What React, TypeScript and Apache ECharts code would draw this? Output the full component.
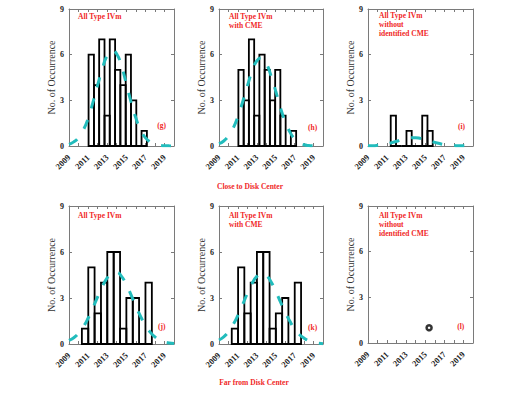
import React, { useEffect, useRef } from 'react';
import * as echarts from 'echarts';

// ---------- data ----------
const YEARS_FIT = [2009, 2009.5, 2010, 2010.5, 2011, 2011.5, 2012, 2012.5, 2013, 2013.5, 2014, 2014.5, 2015, 2015.5, 2016, 2016.5, 2017, 2017.5, 2018, 2018.5, 2019, 2019.5, 2020];

const EDGES_CLOSE = [2011.05, 2011.61, 2012.16, 2012.72, 2013.27, 2013.83, 2014.38, 2014.94, 2015.49, 2016.05, 2016.6, 2017.16];
const COUNTS_G = [6, 4, 7, 2, 7, 5, 4, 6, 3, 0, 1];
const COUNTS_H = [5, 3, 7, 2, 6, 5, 3, 5, 2, 0, 1];
const EDGES_I = [2011.38, 2011.93, 2012.48, 2013.03, 2013.58, 2014.13, 2014.68, 2015.23, 2015.78];
const COUNTS_I = [2, 0, 0, 1, 0, 0, 2, 1];

const EDGES_FAR = [2010.35, 2011.02, 2011.68, 2012.35, 2013.01, 2013.68, 2014.35, 2015.01, 2015.68, 2016.34, 2017.01, 2017.68];
const COUNTS_J = [1, 5, 2, 4, 6, 6, 1, 3, 3, 0, 4];
const COUNTS_K = [1, 5, 2, 4, 6, 6, 1, 2, 3, 0, 4];
const POINT_L_X = [2015.4];
const POINT_L_Y = [1];

const FIT_G = [0.11, 0.27, 0.56, 1.05, 1.8, 2.85, 4.0, 5.1, 5.95, 6.3, 6.05, 5.25, 4.1, 2.9, 1.85, 1.05, 0.55, 0.26, 0.11, 0.04, 0.02, 0.01, 0];
const FIT_H = [0.15, 0.33, 0.66, 1.17, 1.93, 2.89, 3.94, 4.91, 5.59, 5.8, 5.42, 4.62, 3.6, 2.5, 1.6, 0.92, 0.46, 0.2, 0.08, 0.03, 0.01, 0, 0];
const FIT_I = [0.01, 0.02, 0.045, 0.08, 0.14, 0.22, 0.31, 0.41, 0.49, 0.54, 0.55, 0.5, 0.43, 0.33, 0.24, 0.16, 0.09, 0.05, 0.03, 0.01, 0.01, 0, 0];
const FIT_J = [0.23, 0.41, 0.7, 1.12, 1.68, 2.35, 3.07, 3.76, 4.32, 4.64, 4.68, 4.41, 3.89, 3.21, 2.48, 1.8, 1.22, 0.78, 0.46, 0.26, 0.13, 0.07, 0.03];
const FIT_K = [0.26, 0.47, 0.8, 1.27, 1.87, 2.57, 3.3, 3.95, 4.41, 4.6, 4.47, 4.06, 3.44, 2.75, 2.08, 1.48, 0.98, 0.62, 0.38, 0.21, 0.1, 0.05, 0.02];

const X_MIN = 2009;
const X_MAX = 2020;
const Y_TICKS = [0, 3, 6, 9];
const Y_TITLE = 'No. of Occurrence';

const TITLES = [
  ['All Type IVm'],
  ['All Type IVm', 'with CME'],
  ['All Type IVm', 'without', 'identified CME'],
  ['All Type IVm'],
  ['All Type IVm', 'with CME'],
  ['All Type IVm', 'without', 'identified CME'],
];
const LETTERS = ['(g)', '(h)', '(i)', '(j)', '(k)', '(l)'];
const ROW_LABELS = ['Close to Disk Center', 'Far from Disk Center'];

// ---------- styling / layout ----------
const SERIF = "'Liberation Serif', 'Times New Roman', 'DejaVu Serif', serif";
const RED = '#f02828';
const TEAL = '#22bcbc';
const AXIS_C = '#7a7a7a';

const GRIDS = [
  { left: 69, top: 9, width: 105, height: 137 },
  { left: 219, top: 9, width: 104, height: 137 },
  { left: 368, top: 9, width: 105, height: 137 },
  { left: 69, top: 206, width: 105, height: 138 },
  { left: 219, top: 206, width: 104, height: 138 },
  { left: 368, top: 206, width: 105, height: 137 },
];
const NAME_GAPS = [9, 9, 12, 9, 9, 12];
const TITLE_POS = [
  { x: 78, y: 16, dy: 9 },
  { x: 229, y: 16.5, dy: 9 },
  { x: 379, y: 15, dy: 9.3 },
  { x: 78, y: 215, dy: 9 },
  { x: 229, y: 215, dy: 9 },
  { x: 379, y: 215, dy: 9.3 },
];
const LETTER_POS = [
  [161.7, 125],
  [312.7, 127.3],
  [461.5, 126],
  [161.7, 326.7],
  [312.7, 327.3],
  [460.7, 326.7],
];
const ROW_LABEL_POS = [
  [250, 186],
  [254, 382.7],
];

function binsFrom(edges: number[], counts: number[]) {
  return counts.map((c, i) => [edges[i], edges[i + 1], c]);
}

const PANELS = [
  { bins: binsFrom(EDGES_CLOSE, COUNTS_G), fit: FIT_G },
  { bins: binsFrom(EDGES_CLOSE, COUNTS_H), fit: FIT_H },
  { bins: binsFrom(EDGES_I, COUNTS_I), fit: FIT_I },
  { bins: binsFrom(EDGES_FAR, COUNTS_J), fit: FIT_J },
  { bins: binsFrom(EDGES_FAR, COUNTS_K), fit: FIT_K },
  { bins: null as any, fit: null as any },
];

function buildOption() {
  const grid: any[] = [];
  const xAxis: any[] = [];
  const yAxis: any[] = [];
  const series: any[] = [];
  const graphic: any[] = [];

  PANELS.forEach((p, i) => {
    grid.push({ ...GRIDS[i], containLabel: false });
    const xBase = {
      gridIndex: i,
      type: 'value',
      min: X_MIN,
      max: X_MAX,
      interval: 1,
      splitLine: { show: false },
      axisLine: { show: true, onZero: false, lineStyle: { color: AXIS_C, width: 1 } },
      axisTick: { show: true, inside: true, length: 3, lineStyle: { color: AXIS_C } },
    };
    xAxis.push({
      ...xBase,
      position: 'bottom',
      axisLabel: {
        formatter: (v: number) => (Math.round(v) % 2 === 1 ? String(Math.round(v)) : ''),
        rotate: 45,
        fontFamily: SERIF,
        fontWeight: 'bold',
        fontSize: 8.5,
        color: '#222',
        margin: 10,
      },
    });
    xAxis.push({ ...xBase, position: 'top', axisLabel: { show: false } });

    const yBase = {
      gridIndex: i,
      type: 'value',
      min: Y_TICKS[0],
      max: Y_TICKS[Y_TICKS.length - 1],
      interval: Y_TICKS[1] - Y_TICKS[0],
      splitLine: { show: false },
      axisLine: { show: true, onZero: false, lineStyle: { color: AXIS_C, width: 1 } },
      axisTick: { show: true, inside: true, length: 3, lineStyle: { color: AXIS_C } },
    };
    yAxis.push({
      ...yBase,
      position: 'left',
      name: Y_TITLE,
      nameLocation: 'middle',
      nameGap: NAME_GAPS[i],
      nameTextStyle: { fontFamily: SERIF, fontSize: 10, color: '#333' },
      axisLabel: { fontFamily: SERIF, fontWeight: 'bold', fontSize: 8, color: '#222', margin: 5 },
    });
    yAxis.push({ ...yBase, position: 'right', axisLabel: { show: false } });

    const xi = i * 2;
    const yi = i * 2;

    if (p.bins) {
      series.push({
        type: 'custom',
        xAxisIndex: xi,
        yAxisIndex: yi,
        encode: { x: [0, 1], y: 2 },
        data: p.bins,
        z: 2,
        renderItem: (params: any, api: any) => {
          const x0 = api.value(0);
          const x1 = api.value(1);
          const v = api.value(2);
          const p0 = api.coord([x0, 0]);
          const p1 = api.coord([x1, v]);
          return {
            type: 'rect',
            shape: { x: p0[0], y: p1[1], width: p1[0] - p0[0], height: p0[1] - p1[1] },
            style: { fill: 'none', stroke: '#000', lineWidth: 1.8 },
          };
        },
      });
    }
    if (p.fit) {
      series.push({
        type: 'line',
        xAxisIndex: xi,
        yAxisIndex: yi,
        data: YEARS_FIT.map((x, k) => [x, p.fit[k]]),
        smooth: true,
        symbol: 'none',
        z: 5,
        lineStyle: { color: TEAL, width: 3, type: [10, 12], cap: 'butt' },
      });
    }
    if (i === 5) {
      series.push({
        type: 'scatter',
        xAxisIndex: xi,
        yAxisIndex: yi,
        data: POINT_L_X.map((x, k) => [x, POINT_L_Y[k]]),
        symbol: 'circle',
        symbolSize: 5,
        itemStyle: { color: '#fff', borderColor: '#000', borderWidth: 2.5 },
        z: 5,
      });
    }

    const tp = TITLE_POS[i];
    TITLES[i].forEach((t, k) => {
      graphic.push({
        type: 'text',
        x: tp.x,
        y: tp.y + k * tp.dy,
        z: 10,
        style: {
          text: t,
          fill: RED,
          font: `bold 7.5px ${SERIF}`,
          textAlign: 'left',
          textVerticalAlign: 'middle',
        },
      });
    });
    graphic.push({
      type: 'text',
      x: LETTER_POS[i][0],
      y: LETTER_POS[i][1],
      z: 10,
      style: {
        text: LETTERS[i],
        fill: RED,
        font: `bold 7.5px ${SERIF}`,
        textAlign: 'center',
        textVerticalAlign: 'middle',
      },
    });
  });

  ROW_LABELS.forEach((t, r) => {
    graphic.push({
      type: 'text',
      x: ROW_LABEL_POS[r][0],
      y: ROW_LABEL_POS[r][1],
      z: 10,
      style: {
        text: t,
        fill: RED,
        font: `bold 7.5px ${SERIF}`,
        textAlign: 'center',
        textVerticalAlign: 'middle',
      },
    });
  });

  return {
    animation: false,
    backgroundColor: '#fff',
    grid,
    xAxis,
    yAxis,
    series,
    graphic,
  };
}

export default function App() {
  const ref = useRef<HTMLDivElement>(null);
  useEffect(() => {
    if (!ref.current) return;
    const chart = echarts.init(ref.current, null, { renderer: 'svg' });
    chart.setOption(buildOption() as any);
    return () => chart.dispose();
  }, []);
  return (
    <div
      ref={ref}
      style={{ position: 'absolute', left: 0, top: 0, width: 532, height: 399, background: '#fff' }}
    />
  );
}
